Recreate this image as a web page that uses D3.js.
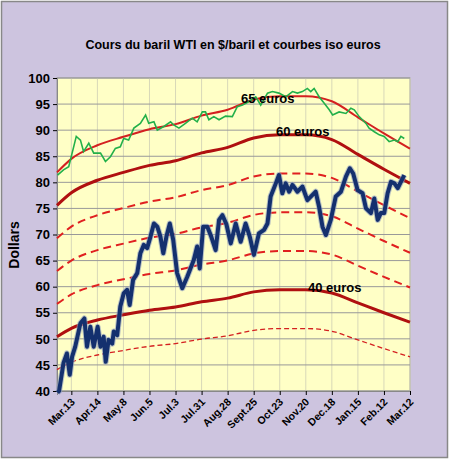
<!DOCTYPE html>
<html>
<head>
<meta charset="utf-8">
<script src="https://d3js.org/d3.v7.min.js"></script>
<style>body{margin:0;background:#fff}</style>
</head>
<body>
<div id="chart"></div>
<script>
// tick labels, one every four weeks
var tickLabels = ["Mar.13","Apr.14","May.8","Jun.5","Jul.3","Jul.31","Aug.28","Sept.25","Oct.23","Nov.20","Dec.18","Jan.15","Feb.12","Mar.12"];
var yTicks = [40,45,50,55,60,65,70,75,80,85,90,95,100];

// EUR/USD rate (position in tick units, rate)
var ratePos = [-0.55,0,1,2,3,4,5,6,7,8,9,10,11,12,13];
var rateVal = [1.26,1.30,1.34,1.365,1.3875,1.4025,1.4275,1.445,1.475,1.485,1.485,1.47,1.4225,1.375,1.33];
var isoEuros = [35,40,45,50,55,60,65];

// WTI price (position, dollars)
var wtiPos = [-0.53,-0.47,-0.3,-0.17,-0.06,0.03,0.15,0.35,0.5,0.6,0.73,0.86,1.01,1.12,1.24,1.32,1.43,1.57,1.63,1.76,1.88,2.01,2.14,2.24,2.37,2.53,2.65,2.78,2.91,3.04,3.17,3.3,3.42,3.53,3.65,3.78,3.91,4.06,4.26,4.45,4.7,4.83,4.93,5.06,5.22,5.37,5.54,5.67,5.8,5.95,6.12,6.31,6.5,6.69,6.85,7.01,7.2,7.4,7.53,7.65,7.85,7.97,8.1,8.23,8.36,8.49,8.68,8.87,9.06,9.26,9.38,9.51,9.64,9.77,9.96,10.15,10.35,10.54,10.69,10.82,10.99,11.18,11.31,11.5,11.63,11.76,11.88,12.01,12.14,12.27,12.4,12.53,12.65,12.78];
var wtiVal = [39.7,40,45.4,47.2,43.1,46.6,48.5,53,53.9,48.5,52.3,48.5,52.3,48.5,50.4,45.6,49.8,49.1,51.4,50.7,56.2,58.7,59.4,56.5,61.3,62.6,66.4,68,67.4,69.6,72.1,71.5,69.6,66.4,69.6,72.1,69,62.6,59.7,61.9,65.1,67.7,63.5,71.5,71.5,69.6,67,72.8,73.7,72,68.3,72.1,68.6,72.1,69.6,66.1,70.2,70.9,72.1,77.3,79.8,81.4,77.9,79.8,78.2,79.5,78.2,79.2,76.6,77.6,78.2,75.3,71.5,69.9,72.8,77.3,78.2,81.1,82.7,81.7,78.5,77.9,75,74.1,76.9,72.8,74.1,74.1,77.9,80.1,79.8,78.9,80.1,81.4];

// green series (position, dollars)
var grnPos = [-0.53,-0.3,-0.1,0.09,0.19,0.35,0.47,0.67,0.86,1.12,1.31,1.5,1.69,1.88,2.01,2.2,2.4,2.65,2.85,2.97,3.17,3.3,3.55,3.81,3.93,4.13,4.38,4.64,4.83,5.03,5.15,5.28,5.47,5.67,5.92,6.18,6.37,6.57,6.82,7.08,7.27,7.53,7.72,7.97,8.23,8.49,8.68,8.87,9.06,9.19,9.32,9.51,9.7,9.9,10.03,10.28,10.54,10.73,10.86,11.05,11.31,11.43,11.63,11.82,12.01,12.2,12.4,12.53,12.65,12.78];
var grnVal = [81.4,82.4,83,86.8,88.8,88.1,85.9,87.5,85.6,85.6,84,84.9,86.5,86.8,88.4,88.1,90.4,91.3,92.9,91.3,91.6,90,90.7,91.6,91,90.4,91.3,92.3,91.6,93.5,93.5,92,92.6,92,92.7,92.6,94.5,94.8,95.5,96.4,94.8,97.1,97.4,97.1,96.4,97.4,97.1,97.4,98,97.4,98,96.4,95.2,93.9,92.9,93.5,93.2,94.2,93.9,92.6,91.3,90.4,89.7,89.1,88.8,87.8,88.1,87.8,88.8,88.4];

var W = 450, H = 460;
var svg = d3.select("#chart").append("svg").attr("width", W).attr("height", H)
  .style("font-family", "Arial, 'Liberation Sans', sans-serif");

svg.append("rect").attr("x", 1.5).attr("y", 1.5).attr("width", W - 4).attr("height", H - 4)
  .attr("fill", "#cdc4df").attr("stroke", "#888").attr("stroke-width", 1.5);

var pLeft = 57, pRight = 410, pTop = 78, pBottom = 391;
var x = d3.scaleLinear().domain([-0.55, 13]).range([pLeft, pRight]);
var y = d3.scaleLinear().domain([40, 100]).range([pBottom, pTop]);

svg.append("rect").attr("x", pLeft).attr("y", pTop).attr("width", pRight - pLeft).attr("height", pBottom - pTop)
  .attr("fill", "#ffffc6").attr("stroke", "#999");

// grid
svg.append("g").selectAll("line").data(d3.range(tickLabels.length)).join("line")
  .attr("x1", d => x(d)).attr("x2", d => x(d)).attr("y1", pTop).attr("y2", pBottom)
  .attr("stroke", "#d8d8b8").attr("stroke-width", 1);
svg.append("g").selectAll("line").data(yTicks).join("line")
  .attr("x1", pLeft).attr("x2", pRight).attr("y1", d => y(d)).attr("y2", d => y(d))
  .attr("stroke", "#999").attr("stroke-width", 1);

// axes
var yAxis = svg.append("g").attr("transform", "translate(" + pLeft + ",0)")
  .call(d3.axisLeft(y).tickValues(yTicks).tickSize(4).tickPadding(3));
yAxis.selectAll("text").style("font-size", "13px").style("font-weight", "bold").attr("fill", "#000");
yAxis.select(".domain").attr("stroke", "#888");

var xAxis = svg.append("g").attr("transform", "translate(0," + pBottom + ")")
  .call(d3.axisBottom(x).tickValues(d3.range(tickLabels.length)).tickFormat(i => tickLabels[i]).tickSize(4));
xAxis.select(".domain").attr("stroke", "#888");
xAxis.selectAll("text").style("font-size", "10.5px").style("font-weight", "bold").attr("fill", "#000")
  .attr("text-anchor", "end").attr("x", 0).attr("y", 8).attr("dy", "0.5em")
  .attr("transform", "rotate(-45 0 8)");

svg.append("text").attr("transform", "translate(19,245) rotate(-90)").attr("text-anchor", "middle")
  .style("font-size", "14px").style("font-weight", "bold").text("Dollars");

svg.append("text").attr("x", 233).attr("y", 49).attr("text-anchor", "middle")
  .style("font-size", "12.5px").style("font-weight", "bold").text("Cours du baril WTI en $/baril et courbes iso euros");

// iso euro curves
var isoLine = d3.line().x(d => x(d[0])).y(d => y(d[1])).curve(d3.curveMonotoneX);
var style = {
  35: {w: 1.3, dash: "5,3", c: "#d42020"},
  40: {w: 3, dash: null, c: "#b01010"},
  45: {w: 2, dash: "8,5", c: "#e02020"},
  50: {w: 2, dash: "8,5", c: "#e02020"},
  55: {w: 2, dash: "8,5", c: "#e02020"},
  60: {w: 3, dash: null, c: "#b01010"},
  65: {w: 2, dash: null, c: "#d42020"}
};
var g = svg.append("g");
isoEuros.forEach(function(e) {
  var pts = ratePos.map((p, i) => [p, e * rateVal[i]]);
  g.append("path").attr("d", isoLine(pts)).attr("fill", "none")
    .attr("stroke", style[e].c).attr("stroke-width", style[e].w)
    .attr("stroke-dasharray", style[e].dash);
});

var line = d3.line().x(d => x(d[0])).y(d => y(d[1]));
svg.append("path").attr("d", line(grnPos.map((p, i) => [p, grnVal[i]])))
  .attr("fill", "none").attr("stroke", "#22b04a").attr("stroke-width", 1.6);

var wti = wtiPos.map((p, i) => [p, wtiVal[i]]);
svg.append("path").attr("d", line(wti)).attr("fill", "none")
  .attr("stroke", "#8a9ac0").attr("stroke-width", 6).attr("stroke-linejoin", "round").attr("opacity", 0.6);
svg.append("path").attr("d", line(wti)).attr("fill", "none")
  .attr("stroke", "#14306e").attr("stroke-width", 4).attr("stroke-linejoin", "round");

// curve labels
[[65, 241, 103], [60, 276, 136], [40, 308, 292]].forEach(function(l) {
  svg.append("text").attr("x", l[1]).attr("y", l[2]).style("font-size", "13px")
    .style("font-weight", "bold").text(l[0] + " euros");
});
</script>
</body>
</html>
